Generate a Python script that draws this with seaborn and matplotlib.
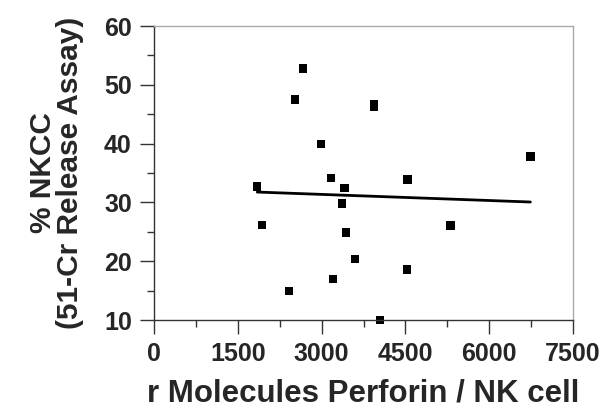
import matplotlib
matplotlib.use("Agg")
import matplotlib.pyplot as plt
import seaborn as sns
from matplotlib.ticker import MultipleLocator

# data
perforin = [2671, 2522, 3941, 3941, 2993, 6737, 3172, 4537, 3410, 1848,
            3368, 1938, 5306, 3440, 3601, 4525, 3208, 2415, 4042]
nkcc = [52.8, 47.5, 46.7, 46.3, 39.9, 37.8, 34.2, 33.9, 32.5, 32.7,
        29.8, 26.2, 26.1, 24.9, 20.4, 18.6, 17.0, 14.9, 10.0]

sns.set_style("white")
plt.rcParams['font.family'] = ['Liberation Sans', 'DejaVu Sans']

fig = plt.figure(figsize=(6.07, 4.09), dpi=100)
ax = fig.add_axes([0.2537, 0.2176, 0.6903, 0.7188])

sns.regplot(x=perforin, y=nkcc, ax=ax, ci=None, marker='s', color='black',
            scatter_kws=dict(s=36, clip_on=False, edgecolors='none', alpha=1),
            line_kws=dict(lw=2, color='black'))

ax.set_xlim(0, 7500)
ax.set_ylim(10, 60)
ax.xaxis.set_major_locator(MultipleLocator(1500))
ax.xaxis.set_minor_locator(MultipleLocator(750))
ax.yaxis.set_major_locator(MultipleLocator(10))
ax.yaxis.set_minor_locator(MultipleLocator(5))
ax.tick_params(which='major', direction='out', length=10, width=1, color='#333333',
               labelsize=18, bottom=True, left=True)
ax.tick_params(axis='x', which='major', pad=6)
ax.tick_params(axis='y', which='major', pad=6)
ax.tick_params(which='minor', direction='out', length=5, width=1, color='#333333',
               bottom=True, left=True)
for lab in ax.get_xticklabels() + ax.get_yticklabels():
    lab.set_fontweight('bold')

for side in ['left', 'bottom']:
    ax.spines[side].set_color('#333333')
    ax.spines[side].set_linewidth(1)
for side in ['top', 'right']:
    ax.spines[side].set_visible(True)
    ax.spines[side].set_color('#aaaaaa')
    ax.spines[side].set_linewidth(1)

ax.set_xlabel("r Molecules Perforin / NK cell", fontsize=22.5, fontweight='bold', labelpad=9)
ax.set_ylabel("% NKCC\n(51-Cr Release Assay)", fontsize=21.5, fontweight='bold',
              labelpad=14, linespacing=0.97)

fig.savefig("out.png", dpi=100)
